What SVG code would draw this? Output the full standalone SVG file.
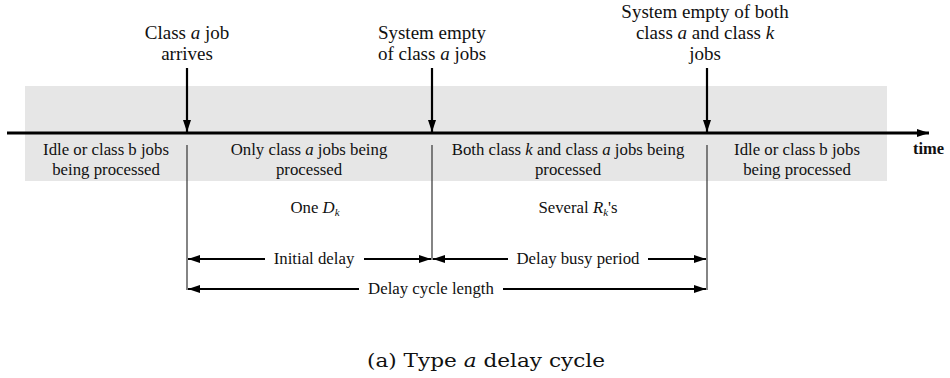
<svg xmlns="http://www.w3.org/2000/svg" width="950" height="378" viewBox="0 0 950 378">
<defs>
<style>
text{font-family:"Liberation Serif","Times New Roman",serif;fill:#111;}
.lbl{font-size:19px;text-anchor:middle;}
.band{font-size:16.8px;text-anchor:middle;}
.dim{font-size:16.8px;text-anchor:middle;}
.m{font-style:italic;}
.sub{font-style:italic;font-size:11px;}
.axis{stroke:#000;stroke-width:3;fill:none;}
.evt{stroke:#000;stroke-width:2.2;fill:none;}
.tick{stroke:#333;stroke-width:1.2;fill:none;}
.dimline{stroke:#000;stroke-width:2;fill:none;}
</style>
<marker id="ah" viewBox="0 0 12 8" refX="12" refY="4" markerWidth="12" markerHeight="8" markerUnits="userSpaceOnUse" orient="auto">
<path d="M0,0 L12,4 L0,8 Z" fill="#000"/>
</marker>
</defs>
<rect id="band" x="25" y="86" width="862" height="95" fill="#e6e6e6"/>
<g id="connectors">
<line class="axis" x1="7" y1="133" x2="929" y2="133" marker-end="url(#ah)"/>
<line class="evt" x1="187" y1="68" x2="187" y2="132" marker-end="url(#ah)"/>
<line class="evt" x1="432" y1="68" x2="432" y2="132" marker-end="url(#ah)"/>
<line class="evt" x1="707" y1="68" x2="707" y2="132" marker-end="url(#ah)"/>
<line class="tick" x1="187" y1="145" x2="187" y2="290"/>
<line class="tick" x1="432" y1="145" x2="432" y2="260"/>
<line class="tick" x1="707" y1="145" x2="707" y2="290"/>
<line class="dimline" x1="265" y1="259" x2="188" y2="259" marker-end="url(#ah)"/>
<line class="dimline" x1="364" y1="259" x2="431" y2="259" marker-end="url(#ah)"/>
<line class="dimline" x1="508" y1="259" x2="433" y2="259" marker-end="url(#ah)"/>
<line class="dimline" x1="648" y1="259" x2="706" y2="259" marker-end="url(#ah)"/>
<line class="dimline" x1="359" y1="289" x2="188" y2="289" marker-end="url(#ah)"/>
<line class="dimline" x1="503" y1="289" x2="706" y2="289" marker-end="url(#ah)"/>
</g>
<g id="evt-arrive">
<text class="lbl" x="187" y="39">Class <tspan class="m">a</tspan> job</text>
<text class="lbl" x="187" y="60">arrives</text>
</g>
<g id="evt-empty-a">
<text class="lbl" x="432" y="39">System empty</text>
<text class="lbl" x="432" y="60">of class <tspan class="m">a</tspan> jobs</text>
</g>
<g id="evt-empty-both">
<text class="lbl" x="705" y="18">System empty of both</text>
<text class="lbl" x="705" y="39">class <tspan class="m">a</tspan> and class <tspan class="m">k</tspan></text>
<text class="lbl" x="705" y="60">jobs</text>
</g>
<g id="seg-idle1">
<text class="band" x="106" y="155">Idle or class b jobs</text>
<text class="band" x="106" y="175">being processed</text>
</g>
<g id="seg-only-a">
<text class="band" x="309" y="155">Only class <tspan class="m">a</tspan> jobs  being</text>
<text class="band" x="309" y="175">processed</text>
</g>
<g id="seg-both">
<text class="band" x="568" y="155">Both class <tspan class="m">k</tspan> and class <tspan class="m">a</tspan> jobs being</text>
<text class="band" x="568" y="175">processed</text>
</g>
<g id="seg-idle2">
<text class="band" x="797" y="155">Idle or class b jobs</text>
<text class="band" x="797" y="175">being processed</text>
</g>
<g id="time-label">
<text x="913" y="154" style="font-size:16.5px;font-weight:bold;">time</text>
</g>
<g id="one-dk">
<text class="dim" x="315" y="213">One <tspan class="m">D</tspan><tspan class="sub" dy="3">k</tspan></text>
</g>
<g id="several-rk">
<text class="dim" x="578" y="213">Several <tspan class="m">R</tspan><tspan class="sub" dy="3">k</tspan><tspan dy="-3">'s</tspan></text>
</g>
<g id="dim-initial">
<text class="dim" x="314" y="264">Initial delay</text>
</g>
<g id="dim-busy">
<text class="dim" x="578" y="264">Delay busy period</text>
</g>
<g id="dim-cycle">
<text class="dim" x="431" y="294">Delay cycle length</text>
</g>
<g id="caption">
<text x="486" y="367" textLength="238" lengthAdjust="spacingAndGlyphs" style="font-family:'DejaVu Serif',serif;font-size:18px;text-anchor:middle;">(a) Type <tspan class="m">a</tspan> delay cycle</text>
</g>
</svg>
